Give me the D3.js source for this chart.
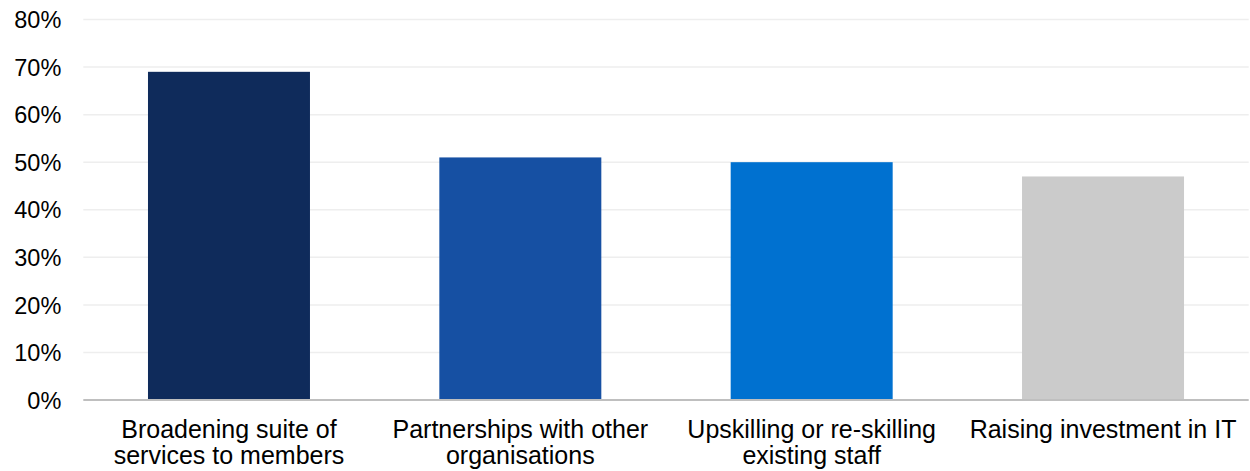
<!DOCTYPE html>
<html>
<head>
<meta charset="utf-8">
<script src="https://cdn.jsdelivr.net/npm/d3@7"></script>
<style>
  body { margin: 0; background: #fff; }
  text { font-family: "Liberation Sans", Arial, sans-serif; fill: #000; }
</style>
</head>
<body>
<div id="chart"></div>
<script>
// Chart data
const categories = [
    ["Broadening suite of", "services to members"],
    ["Partnerships with other", "organisations"],
    ["Upskilling or re-skilling", "existing staff"],
    ["Raising investment in IT"]
];
const values = [0.69, 0.51, 0.50, 0.47];
const barColors = ["#0f2b5b", "#1650a3", "#0071d0", "#cbcbcb"];
const yTicks = [0, 0.1, 0.2, 0.3, 0.4, 0.5, 0.6, 0.7, 0.8];

const totalWidth = 1250;
const totalHeight = 471;
const margin = { top: 19.5, right: 1.3, bottom: 71, left: 83.3 };
const width = totalWidth - margin.left - margin.right;
const height = totalHeight - margin.top - margin.bottom;

const svg = d3.select("#chart")
    .append("svg")
    .attr("width", totalWidth)
    .attr("height", totalHeight)
    .append("g")
    .attr("transform", `translate(${margin.left},${margin.top})`);

const keys = categories.map(d => d.join(" "));

const xScale = d3.scaleBand()
    .domain(keys)
    .range([0, width])
    .paddingInner(0.444)
    .paddingOuter(0.222);

const yScale = d3.scaleLinear()
    .domain([0, 0.8])
    .range([height, 0]);

// Gridlines
svg.append("g")
    .selectAll("line")
    .data(yTicks.filter(t => t > 0))
    .join("line")
    .attr("x1", 0)
    .attr("x2", width)
    .attr("y1", d => yScale(d))
    .attr("y2", d => yScale(d))
    .style("stroke", "#eeeeee")
    .style("stroke-width", 1.5);

// Y axis labels
const yAxis = svg.append("g")
    .call(d3.axisLeft(yScale)
        .tickValues(yTicks)
        .tickFormat(d3.format(".0%"))
        .tickSize(0)
        .tickPadding(22));
yAxis.select(".domain").remove();
yAxis.selectAll("text")
    .style("font-size", "23.5px")
    .attr("dy", "0.35em");

// Bars
svg.append("g")
    .selectAll("rect")
    .data(values)
    .join("rect")
    .attr("x", (d, i) => xScale(keys[i]))
    .attr("y", d => yScale(d))
    .attr("width", xScale.bandwidth())
    .attr("height", d => height - yScale(d))
    .style("fill", (d, i) => barColors[i]);

// Baseline
svg.append("line")
    .attr("x1", 0)
    .attr("x2", width)
    .attr("y1", yScale(0))
    .attr("y2", yScale(0))
    .style("stroke", "#bfbfbf")
    .style("stroke-width", 2);

// Category labels
const labels = svg.append("g")
    .selectAll("text")
    .data(categories)
    .join("text")
    .attr("x", (d, i) => xScale(keys[i]) + xScale.bandwidth() / 2)
    .attr("y", height + 38)
    .attr("text-anchor", "middle")
    .style("font-size", "25px");

labels.selectAll("tspan")
    .data(d => d)
    .join("tspan")
    .attr("x", function () { return d3.select(this.parentNode).attr("x"); })
    .attr("dy", (d, i) => i === 0 ? 0 : 26)
    .text(d => d);
</script>
</body>
</html>
